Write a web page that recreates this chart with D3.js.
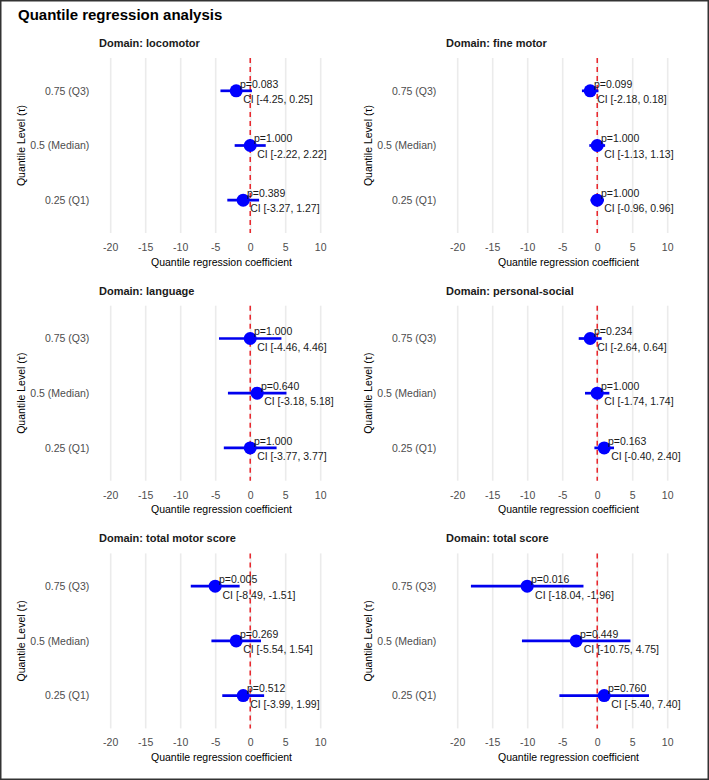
<!DOCTYPE html>
<html>
<head>
<meta charset="utf-8">
<script src="https://cdn.jsdelivr.net/npm/d3@7"></script>
<style>
  body { margin: 0; background: #fff; }
  svg { display: block; font-family: "Liberation Sans", Arial, sans-serif; }
  .grid line { stroke: #ebebeb; stroke-width: 1.6; }
  .grid path { display: none; }
  .xlab path, .ylab path { display: none; }
  .xlab text, .ylab text { fill: #4d4d4d; font-size: 10.5px; }
</style>
</head>
<body>
<div id="d3-container"></div>
<script>
const width = 709,
  height = 780;

// chart values
const domains = ["locomotor", "fine motor", "language", "personal-social", "total motor score", "total score"];
const quantileLabels = ["0.75 (Q3)", "0.5 (Median)", "0.25 (Q1)"];
const estimates = [[-2, 0, -1], [-1, 0, 0], [0, 1, 0], [-1, 0, 1], [-5, -2, -1], [-10, -3, 1]];
const ciLower = [[-4.25, -2.22, -3.27], [-2.18, -1.13, -0.96], [-4.46, -3.18, -3.77], [-2.64, -1.74, -0.40], [-8.49, -5.54, -3.99], [-18.04, -10.75, -5.40]];
const ciUpper = [[0.25, 2.22, 1.27], [0.18, 1.13, 0.96], [4.46, 5.18, 3.77], [0.64, 1.74, 2.40], [-1.51, 1.54, 1.99], [-1.96, 4.75, 7.40]];
const pValues = [[0.083, 1.000, 0.389], [0.099, 1.000, 1.000], [1.000, 0.640, 1.000], [0.234, 1.000, 0.163], [0.005, 0.269, 0.512], [0.016, 0.449, 0.760]];
const xTicks = [-20, -15, -10, -5, 0, 5, 10];

const panel = { left: 99, right: 344, top: 58, bottom: 233 },
  colStep = 347,
  rowStep = 247.7;

const svg = d3.select("#d3-container")
  .append("svg")
  .attr("width", width)
  .attr("height", height);

svg.append("rect")
  .attr("x", 0.75).attr("y", 0.75)
  .attr("width", width - 1.5).attr("height", height - 1.5)
  .attr("fill", "#fff")
  .attr("stroke", "#333")
  .attr("stroke-width", 1.5);

svg.append("text")
  .attr("x", 18)
  .attr("y", 19.5)
  .attr("font-size", "15px")
  .attr("font-weight", "bold")
  .attr("fill", "#000")
  .text("Quantile regression analysis");

const xScale = d3.scaleLinear()
  .domain([-21.6, 13.4])
  .range([panel.left, panel.right]);

const yScale = d3.scalePoint()
  .domain(quantileLabels)
  .range([panel.top, panel.bottom])
  .padding(0.6);

domains.forEach((dom, i) => {
  const col = i % 2, row = Math.floor(i / 2);
  const g = svg.append("g")
    .attr("transform", `translate(${col * colStep},${row * rowStep})`);

  const rows = quantileLabels.map((q, j) => ({
    q: q,
    est: estimates[i][j],
    lo: ciLower[i][j],
    hi: ciUpper[i][j],
    p: pValues[i][j]
  }));

  // facet title
  g.append("text")
    .attr("x", panel.left)
    .attr("y", 47)
    .attr("font-size", "11px")
    .attr("font-weight", "bold")
    .attr("fill", "#1a1a1a")
    .text("Domain: " + dom);

  // vertical grid
  g.append("g")
    .attr("class", "grid")
    .attr("transform", `translate(0,${panel.bottom})`)
    .call(d3.axisBottom(xScale).tickValues(xTicks).tickSize(-(panel.bottom - panel.top)).tickFormat(""));

  // x tick labels (plain hyphen minus like the original)
  g.append("g")
    .attr("class", "xlab")
    .attr("transform", `translate(0,${panel.bottom})`)
    .call(d3.axisBottom(xScale).tickValues(xTicks).tickSize(0).tickPadding(10.5).tickFormat(d => String(d)))
    .selectAll("line").remove();

  // y tick labels
  g.append("g")
    .attr("class", "ylab")
    .attr("transform", `translate(${panel.left},0)`)
    .call(d3.axisLeft(yScale).tickSize(0).tickPadding(9.7))
    .selectAll("line").remove();

  // axis titles
  g.append("text")
    .attr("x", (panel.left + panel.right) / 2)
    .attr("y", 265.5)
    .attr("text-anchor", "middle")
    .attr("font-size", "10.5px")
    .attr("fill", "#000")
    .text("Quantile regression coefficient");

  g.append("text")
    .attr("transform", `translate(24.5,${(panel.top + panel.bottom) / 2}) rotate(-90)`)
    .attr("text-anchor", "middle")
    .attr("font-size", "10.5px")
    .attr("fill", "#000")
    .text("Quantile Level (\u03c4)");

  // reference line at zero
  g.append("line")
    .attr("x1", xScale(0)).attr("x2", xScale(0))
    .attr("y1", panel.top).attr("y2", panel.bottom)
    .attr("stroke", "#e8141b")
    .attr("stroke-width", 1.4)
    .attr("stroke-dasharray", "5,4");

  // CI bars
  g.selectAll(".ci")
    .data(rows)
    .join("line")
    .attr("class", "ci")
    .attr("x1", d => xScale(d.lo))
    .attr("x2", d => xScale(d.hi))
    .attr("y1", d => yScale(d.q))
    .attr("y2", d => yScale(d.q))
    .attr("stroke", "#0000ee")
    .attr("stroke-width", 2.7);

  // point estimates
  g.selectAll(".dot")
    .data(rows)
    .join("circle")
    .attr("class", "dot")
    .attr("cx", d => xScale(d.est))
    .attr("cy", d => yScale(d.q))
    .attr("r", 6.5)
    .attr("fill", "#0000ff");

  // labels: p value and CI, each line nudged by 10% of its own width
  const lines = [
    { text: d => "p=" + d.p.toFixed(3), dy: -3.3 },
    { text: d => "CI [" + d.lo.toFixed(2) + ", " + d.hi.toFixed(2) + "]", dy: 12.3 }
  ];
  lines.forEach(l => {
    g.selectAll(null)
      .data(rows)
      .join("text")
      .attr("y", d => yScale(d.q) + l.dy)
      .attr("font-size", "10.5px")
      .attr("fill", "#1a1a1a")
      .text(l.text)
      .attr("x", function(d) {
        return xScale(d.est) + 0.1 * this.getComputedTextLength();
      });
  });
});
</script>
</body>
</html>
